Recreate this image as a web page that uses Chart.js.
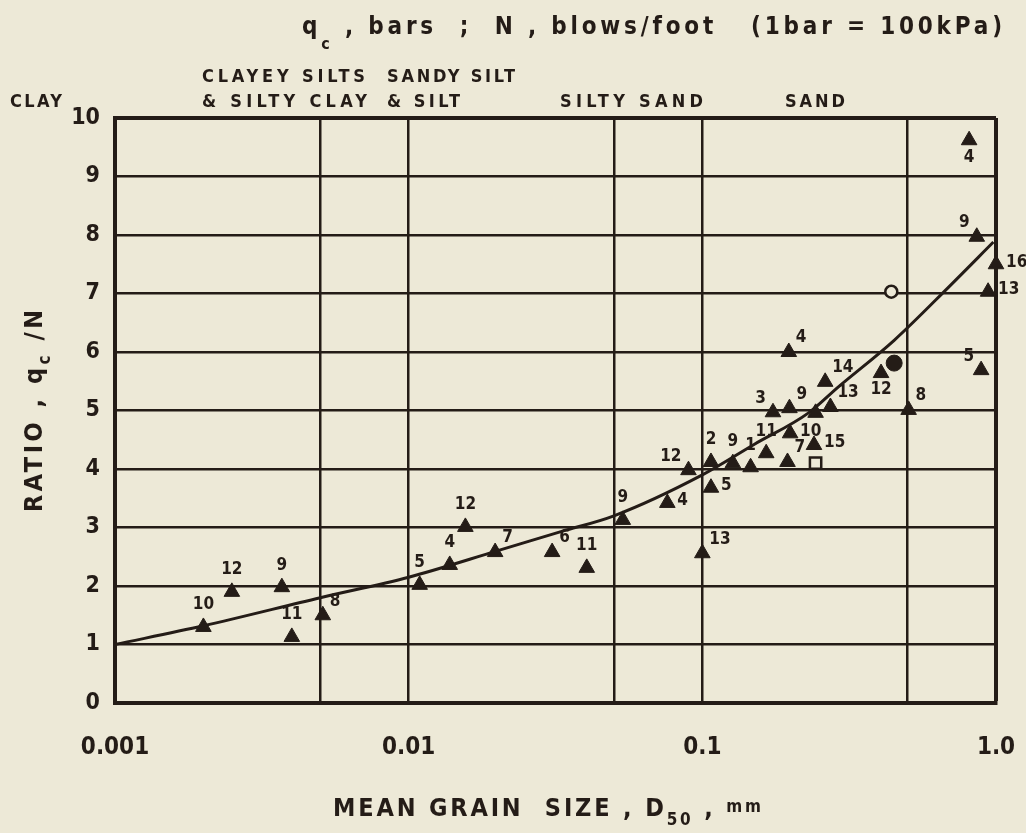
<!DOCTYPE html>
<html>
<head>
<meta charset="utf-8">
<script src="https://cdn.jsdelivr.net/npm/chart.js@4.4.1/dist/chart.umd.min.js"></script>
<style>
  html, body { margin: 0; background: #ede9d7; }
  canvas { display: block; }
</style>
</head>
<body>
<canvas id="chart" width="1026" height="833"></canvas>
<script>
// ---- data ----
// triangles: mean grain size D50 (mm), ratio qc/N, site number
const triD = [0.0020, 0.0025, 0.0037, 0.0040, 0.0051, 0.0109, 0.0138, 0.0156, 0.0197, 0.0308,
              0.0404, 0.0536, 0.076, 0.0897, 0.107, 0.127, 0.107, 0.100, 0.146, 0.165,
              0.195, 0.199, 0.240, 0.174, 0.198, 0.243, 0.273, 0.504, 0.406, 0.262,
              0.197, 0.81, 0.86, 1.0, 0.94, 0.89];
const triR = [1.30, 1.90, 1.98, 1.13, 1.50, 2.02, 2.36, 3.01, 2.58, 2.58,
              2.31, 3.13, 3.42, 3.98, 4.12, 4.10, 3.68, 2.56, 4.03, 4.27,
              4.12, 4.61, 4.41, 4.97, 5.04, 4.96, 5.06, 5.01, 5.64, 5.49,
              6.00, 9.62, 7.97, 7.50, 7.03, 5.69];
const triLabel = ["10", "12", "9", "11", "8", "5", "4", "12", "7", "6",
                  "11", "9", "4", "12", "2", "9", "5", "13", "1", "11",
                  "7", "10", "15", "3", "9", "", "13", "8", "12", "14",
                  "4", "4", "9", "16", "13", "5"];
// where each number sits next to its triangle (a=above, b=below, r=right, ar/al=above right/left)
const triPlace = ["a", "a", "a", "a", "ar", "a", "a", "a", "ar", "ar",
                  "a", "a", "r", "al", "a", "a", "r", "ar", "a", "a",
                  "ar", "r", "r", "al", "ar", "a", "ar", "ar", "b", "ar",
                  "ar", "b", "al", "r", "r", "al"];

const openCircleD = [0.44];
const openCircleR = [7.03];
const dotD = [0.45];
const dotR = [5.81];
const squareD = [0.243];
const squareR = [4.10];

// fitted curve
const curveD = [0.001, 0.002, 0.005, 0.01, 0.02, 0.033, 0.05, 0.1, 0.15, 0.23, 0.29, 0.45, 0.69, 0.98];
const curveR = [1.0, 1.32, 1.8, 2.15, 2.6, 2.93, 3.2, 3.9, 4.42, 4.96, 5.4, 6.2, 7.11, 7.88];

// axes
const xGridValues = [0.001, 0.005, 0.01, 0.05, 0.1, 0.5, 1.0];
const xTickText = ["0.001", "", "0.01", "", "0.1", "", "1.0"];
const yMin = 0, yMax = 10;
const soilLabels = ["CLAY", "CLAYEY SILTS", "& SILTY CLAY", "SANDY SILT", "& SILT", "SILTY SAND", "SAND"];

const INK = "#241c17";
const PAPER = "#ede9d7";
const FONT = "'DejaVu Sans Condensed', 'Liberation Sans Narrow', 'DejaVu Sans', sans-serif";

function toPoints(xs, ys) {
  return xs.map((x, i) => ({ x: x, y: ys[i] }));
}

// draws pieces of text (some as subscripts) spread over a given width
function spreadText(ctx, parts, x, y, width) {
  let natural = 0, count = 0;
  parts.forEach((p) => {
    ctx.font = p.font;
    ctx.letterSpacing = "0px";
    natural += ctx.measureText(p.t).width;
    count += [...p.t].length;
  });
  const ls = count > 1 ? (width - natural) / (count - 1) : 0;
  let cx = x;
  ctx.textAlign = "left";
  ctx.textBaseline = "alphabetic";
  parts.forEach((p) => {
    ctx.font = p.font;
    ctx.letterSpacing = "0px";
    const w = ctx.measureText(p.t).width;
    ctx.letterSpacing = ls + "px";
    ctx.fillText(p.t, cx, y + (p.dy || 0));
    cx += w + ls * [...p.t].length;
  });
  ctx.letterSpacing = "0px";
}

const textPlugin = {
  id: "texts",
  afterDraw(chart) {
    const ctx = chart.ctx;
    ctx.save();
    ctx.fillStyle = INK;

    const big = "bold 24px " + FONT;
    const small = "bold 16px " + FONT;
    const axisBig = "bold 25px " + FONT;
    const axisSmall = "bold 17px " + FONT;

    // heading
    spreadText(ctx, [
      { t: "q", font: big },
      { t: "c", font: small, dy: 15 },
      { t: " , bars  ;  N , blows/foot   (1bar = 100kPa)", font: big },
    ], 302, 34, 700);

    // soil types above the grid
    const reg = "bold 18px " + FONT;
    const soilPos = [[10, 107, 52], [202, 82, 163], [202, 107, 165], [387, 82, 128],
                     [387, 107, 73], [560, 107, 143], [785, 107, 60]];
    soilLabels.forEach((s, i) => {
      const p = soilPos[i];
      spreadText(ctx, [{ t: s, font: reg }], p[0], p[1], p[2]);
    });

    // y axis title
    ctx.save();
    ctx.translate(42, 512);
    ctx.rotate(-Math.PI / 2);
    spreadText(ctx, [
      { t: "RATIO , q", font: axisBig },
      { t: "c", font: axisSmall, dy: 8 },
      { t: " /N", font: axisBig },
    ], 0, 0, 202);
    ctx.restore();

    // x axis title
    spreadText(ctx, [
      { t: "MEAN GRAIN  SIZE , D", font: axisBig },
      { t: "50", font: axisSmall, dy: 9 },
      { t: " , ", font: axisBig },
      { t: "mm", font: axisSmall, dy: -4 },
    ], 333, 816, 428);

    // site numbers beside the triangles
    ctx.font = "bold 17px " + FONT;
    ctx.textBaseline = "middle";
    const meta = chart.getDatasetMeta(0);
    meta.data.forEach((pt, i) => {
      const lab = triLabel[i];
      if (!lab) return;
      const code = triPlace[i];
      let x = pt.x, y = pt.y;
      if (code === "a") { ctx.textAlign = "center"; y -= 22; }
      else if (code === "b") { ctx.textAlign = "center"; y += 17; }
      else if (code === "r") { ctx.textAlign = "left"; x += 10; y -= 2; }
      else if (code === "ar") { ctx.textAlign = "left"; x += 7; y -= 14; }
      else if (code === "al") { ctx.textAlign = "right"; x -= 7; y -= 14; }
      ctx.fillText(lab, x, y);
    });
    ctx.restore();
  },
};

new Chart(document.getElementById("chart"), {
  type: "scatter",
  data: {
    datasets: [
      {
        data: toPoints(triD, triR),
        pointStyle: "triangle",
        pointRadius: 9,
        backgroundColor: INK,
        borderColor: INK,
        borderWidth: 1,
        clip: false,
      },
      {
        data: toPoints(openCircleD, openCircleR),
        pointStyle: "circle",
        pointRadius: 6,
        backgroundColor: PAPER,
        borderColor: INK,
        borderWidth: 2.5,
        clip: false,
      },
      {
        data: toPoints(dotD, dotR),
        pointStyle: "circle",
        pointRadius: 8,
        backgroundColor: INK,
        borderColor: INK,
        clip: false,
      },
      {
        data: toPoints(squareD, squareR),
        pointStyle: "rect",
        pointRadius: 8,
        backgroundColor: PAPER,
        borderColor: INK,
        borderWidth: 2.5,
        clip: false,
      },
      {
        data: toPoints(curveD, curveR),
        showLine: true,
        pointRadius: 0,
        borderColor: INK,
        borderWidth: 3,
        cubicInterpolationMode: "monotone",
        clip: false,
      },
    ],
  },
  options: {
    responsive: false,
    animation: false,
    events: [],
    layout: { padding: { top: 118, right: 30, left: 0, bottom: 0 } },
    plugins: {
      legend: { display: false },
      tooltip: { enabled: false },
    },
    scales: {
      x: {
        type: "logarithmic",
        min: xGridValues[0],
        max: xGridValues[xGridValues.length - 1],
        afterBuildTicks: (s) => {
          s.ticks = xGridValues.map((v) => ({ value: v }));
        },
        afterFit: (s) => {
          s.height = 130;
          s.paddingLeft = 0;
          s.paddingRight = 0;
        },
        grid: {
          color: INK,
          lineWidth: (c) => (c.tick && c.tick.value === 1 ? 4 : 2.5),
          drawTicks: false,
        },
        border: { color: INK, width: 4 },
        ticks: {
          autoSkip: false,
          maxRotation: 0,
          padding: 30,
          color: INK,
          font: { family: FONT, size: 24, weight: "bold" },
          callback: (v, i) => xTickText[i],
        },
      },
      y: {
        min: yMin,
        max: yMax,
        afterFit: (s) => {
          s.width = 115;
          s.paddingTop = 0;
          s.paddingBottom = 0;
        },
        grid: {
          color: INK,
          lineWidth: (c) => (c.tick && c.tick.value === yMax ? 4 : 2.5),
          drawTicks: false,
        },
        border: { color: INK, width: 4 },
        ticks: {
          stepSize: 1,
          padding: 15,
          color: INK,
          font: { family: FONT, size: 23, weight: "bold" },
        },
      },
    },
  },
  plugins: [textPlugin],
});
</script>
</body>
</html>
